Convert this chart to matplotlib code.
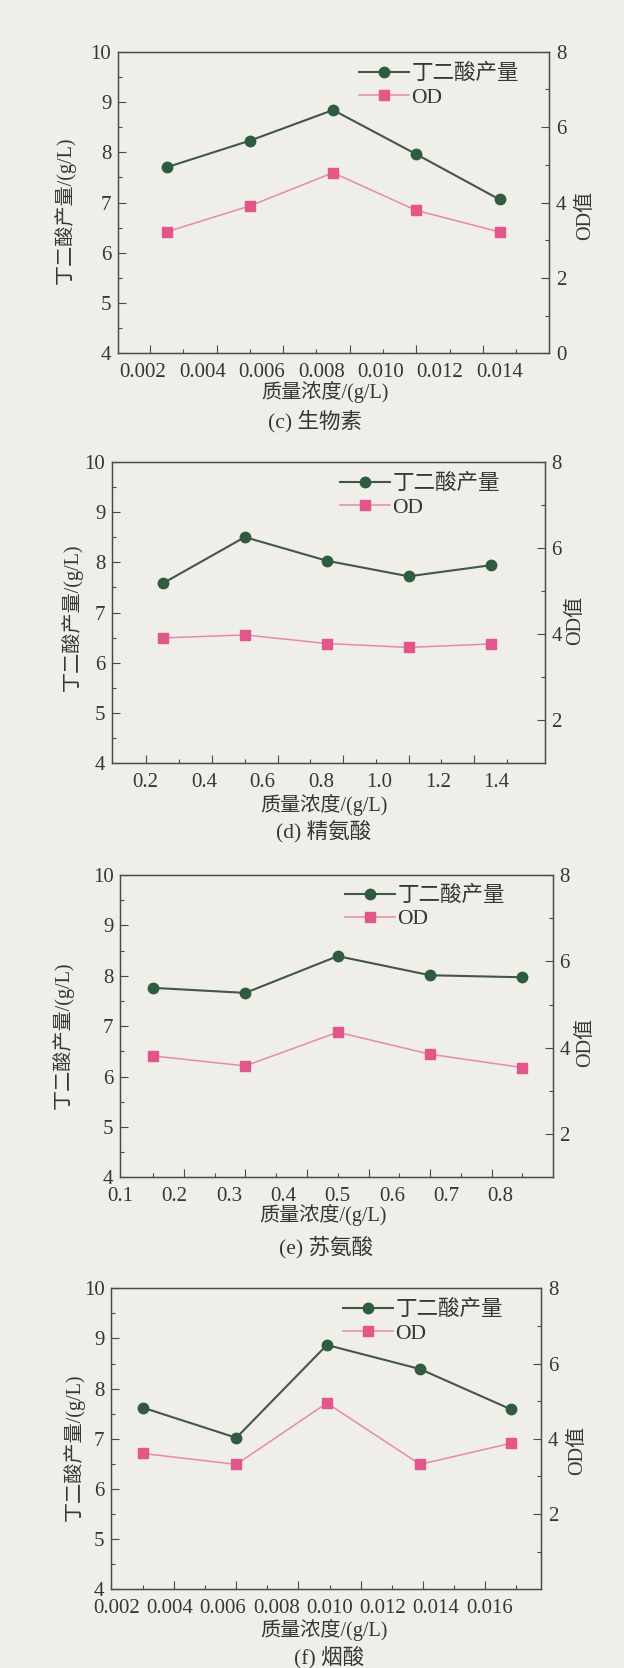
import numpy as np
import matplotlib
matplotlib.use("Agg")
import matplotlib.pyplot as plt
from matplotlib.ticker import FixedLocator, NullFormatter
from matplotlib.lines import Line2D

plt.rcParams["font.family"] = ["Liberation Serif", "Noto Sans CJK SC"]
plt.rcParams["axes.unicode_minus"] = False

# ---------------- data ----------------
# (c) biotin
c_conc = [0.0028, 0.0056, 0.0084, 0.0112, 0.0140]
c_yield = [7.70, 8.23, 8.84, 7.96, 7.06]
c_od = [3.22, 3.91, 4.79, 3.79, 3.22]
c_xticks = [0.002, 0.004, 0.006, 0.008, 0.010, 0.012, 0.014]

# (d) arginine
d_conc = [0.26, 0.54, 0.82, 1.10, 1.38]
d_yield = [7.58, 8.50, 8.03, 7.72, 7.94]
d_od = [3.91, 3.98, 3.78, 3.69, 3.77]
d_xticks = [0.2, 0.4, 0.6, 0.8, 1.0, 1.2, 1.4]

# (e) threonine
e_conc = [0.16, 0.33, 0.50, 0.67, 0.84]
e_yield = [7.76, 7.66, 8.39, 8.01, 7.97]
e_od = [3.81, 3.58, 4.36, 3.85, 3.54]
e_xticks = [0.1, 0.2, 0.3, 0.4, 0.5, 0.6, 0.7, 0.8]

# (f) nicotinic acid
f_conc = [0.0030, 0.0065, 0.0099, 0.0134, 0.0168]
f_yield = [7.62, 7.02, 8.87, 8.39, 7.59]
f_od = [3.61, 3.32, 4.95, 3.32, 3.88]
f_xticks = [0.002, 0.004, 0.006, 0.008, 0.010, 0.012, 0.014, 0.016]

yield_label = "丁二酸产量"
od_label = "OD"
ylabel_left = "丁二酸产量/(g/L)"
ylabel_right = "OD值"
xlabel = "质量浓度/(g/L)"
captions = ["(c) 生物素", "(d) 精氨酸", "(e) 苏氨酸", "(f) 烟酸"]

# ---------------- style ----------------
BG = "#efeee8"
GREEN_LINE = "#43564a"
GREEN_MARK = "#2f5c3f"
PINK_LINE = "#e88aa6"
PINK_MARK = "#e3568a"
INK = "#363636"
FONTS = ["Liberation Serif", "Noto Sans CJK SC"]

W, H = 624, 1668
fig = plt.figure(figsize=(W / 100, H / 100), dpi=100, facecolor=BG)


def box(l, r, t, b):
    return [l / W, 1 - b / H, (r - l) / W, (b - t) / H]


panels = [
    dict(x=c_conc, y=c_yield, od=c_od, xt=c_xticks, fmt="%.3f",
         box=(118.3, 548.9, 51.7, 353.3), xlim=(0.001175, 0.01566),
         mark_div=2.5, mark_start=-0.5, mark_n=12, major_even=True,
         rlim=(0, 8), rticks=[0, 2, 4, 6, 8], rminor=[1, 3, 5, 7],
         leg=(0.560, 0.959), xl=(324.8, 392), yl=(65, 210), rl=(586, 215),
         cap=(315, 421)),
    dict(x=d_conc, y=d_yield, od=d_od, xt=d_xticks, fmt="%.1f",
         box=(112.3, 544.6, 461.7, 763.3), xlim=(0.0873, 1.5643),
         mark_div=2.5, mark_start=-0.5, mark_n=12, major_even=True,
         rlim=(1, 8), rticks=[2, 4, 6, 8], rminor=[3, 5, 7],
         leg=(0.527, 0.959), xl=(324, 805), yl=(72, 617), rl=(576, 620),
         cap=(324, 831)),
    dict(x=e_conc, y=e_yield, od=e_od, xt=e_xticks, fmt="%.1f",
         box=(120.4, 552.5, 875.0, 1177.3), xlim=(0.1005, 0.8953),
         mark_div=3.0, mark_start=0.0, mark_n=13, major_even=False,
         rlim=(1, 8), rticks=[2, 4, 6, 8], rminor=[3, 5, 7],
         leg=(0.520, 0.964), xl=(323, 1215), yl=(63, 1035), rl=(586, 1042),
         cap=(326, 1247)),
    dict(x=f_conc, y=f_yield, od=f_od, xt=f_xticks, fmt="%.3f",
         box=(111.4, 541.0, 1288.3, 1589.3), xlim=(0.00181, 0.01794),
         mark_div=3.0, mark_start=0.0, mark_n=13, major_even=False,
         rlim=(0, 8), rticks=[2, 4, 6, 8], rminor=[1, 3, 5, 7],
         leg=(0.540, 0.961), xl=(324, 1630), yl=(74, 1447), rl=(578, 1450),
         cap=(329, 1657)),
]

TICK_FS = 15
LABEL_FS = 14.5
LEGEND_FS = 15.5
CAPTION_FS = 15.5

for p, cap in zip(panels, captions):
    l, r, t, b = p["box"]
    ax = fig.add_axes(box(l, r, t, b))
    ax.set_facecolor(BG)
    ax2 = ax.twinx()

    ax.plot(p["x"], p["y"], color=GREEN_LINE, lw=1.5, marker="o", ms=7.5,
            mfc=GREEN_MARK, mec=GREEN_MARK, zorder=3)
    ax2.plot(p["x"], p["od"], color=PINK_LINE, lw=1.1, marker="s", ms=6.5,
             mfc=PINK_MARK, mec=PINK_MARK, zorder=3)

    ax.set_xlim(*p["xlim"])
    ax.set_ylim(4, 10)
    ax2.set_ylim(*p["rlim"])

    for a in (ax, ax2):
        for s in a.spines.values():
            s.set_color("#4a4a4a")
            s.set_linewidth(0.9)

    # x tick labels (no marks); marks are drawn on a secondary axis
    ax.set_xticks(p["xt"])
    ax.set_xticklabels([p["fmt"] % v for v in p["xt"]])
    ax.tick_params(axis="x", which="major", length=0, pad=7,
                   labelsize=TICK_FS, labelcolor=INK)

    step = (p["x"][1] - p["x"][0]) / p["mark_div"]
    marks = [p["x"][0] + step * (p["mark_start"] + k) for k in range(p["mark_n"])]
    big = [m for k, m in enumerate(marks) if (k % 2 == 0) == p["major_even"]]
    small = [m for k, m in enumerate(marks) if (k % 2 == 0) != p["major_even"]]
    sec = ax.secondary_xaxis("bottom")
    sec.spines["bottom"].set_visible(False)
    sec.xaxis.set_major_locator(FixedLocator(big))
    sec.xaxis.set_minor_locator(FixedLocator(small))
    sec.xaxis.set_major_formatter(NullFormatter())
    sec.xaxis.set_minor_formatter(NullFormatter())
    sec.tick_params(axis="x", which="major", direction="in", length=5.5,
                    width=0.8, color="#4a4a4a")
    sec.tick_params(axis="x", which="minor", direction="in", length=3,
                    width=0.8, color="#4a4a4a")

    # left axis
    ax.set_yticks(np.arange(4, 11, 1))
    ax.yaxis.set_minor_locator(FixedLocator(np.arange(4.5, 10, 1.0)))
    ax.tick_params(axis="y", which="major", direction="in", length=5.5,
                   width=0.8, color="#4a4a4a", labelsize=TICK_FS,
                   labelcolor=INK, pad=5)
    ax.tick_params(axis="y", which="minor", direction="in", length=3,
                   width=0.8, color="#4a4a4a")

    # right axis
    ax2.set_yticks(p["rticks"])
    ax2.yaxis.set_minor_locator(FixedLocator(p["rminor"]))
    ax2.tick_params(axis="y", which="major", direction="in", length=5.5,
                    width=0.8, color="#4a4a4a", labelsize=TICK_FS,
                    labelcolor=INK, pad=5)
    ax2.tick_params(axis="y", which="minor", direction="in", length=3,
                    width=0.8, color="#4a4a4a")

    # axis titles
    wpx, hpx = r - l, b - t
    ax.set_xlabel(xlabel, fontsize=LABEL_FS, color=INK)
    ax.xaxis.label.set_va("center")
    ax.xaxis.set_label_coords((p["xl"][0] - l) / wpx, 1 - (p["xl"][1] - t) / hpx)
    ax.set_ylabel(ylabel_left, fontsize=LABEL_FS, color=INK)
    ax.yaxis.label.set_va("center")
    ax.yaxis.set_label_coords((p["yl"][0] - l) / wpx, 1 - (p["yl"][1] - t) / hpx)
    ax2.set_ylabel(ylabel_right, fontsize=LABEL_FS, color=INK, rotation=90)
    ax2.yaxis.label.set_va("center")
    ax2.yaxis.set_label_coords((p["rl"][0] - l) / wpx, 1 - (p["rl"][1] - t) / hpx)

    # legend
    handles = [
        Line2D([], [], color=GREEN_LINE, lw=1.5, marker="o", ms=7.5,
               mfc=GREEN_MARK, mec=GREEN_MARK),
        Line2D([], [], color=PINK_LINE, lw=1.1, marker="s", ms=6.5,
               mfc=PINK_MARK, mec=PINK_MARK),
    ]
    ax2.legend(handles, [yield_label, od_label], loc="upper left",
               bbox_to_anchor=p["leg"], frameon=False, borderpad=0,
               borderaxespad=0, handlelength=2.3, handletextpad=0.12,
               labelspacing=0.15, prop={"family": FONTS, "size": LEGEND_FS},
               labelcolor=INK)

    fig.text(p["cap"][0] / W, 1 - p["cap"][1] / H, cap, ha="center",
             va="center", fontsize=CAPTION_FS, color=INK)

fig.savefig("out.png", dpi=100, facecolor=BG)
